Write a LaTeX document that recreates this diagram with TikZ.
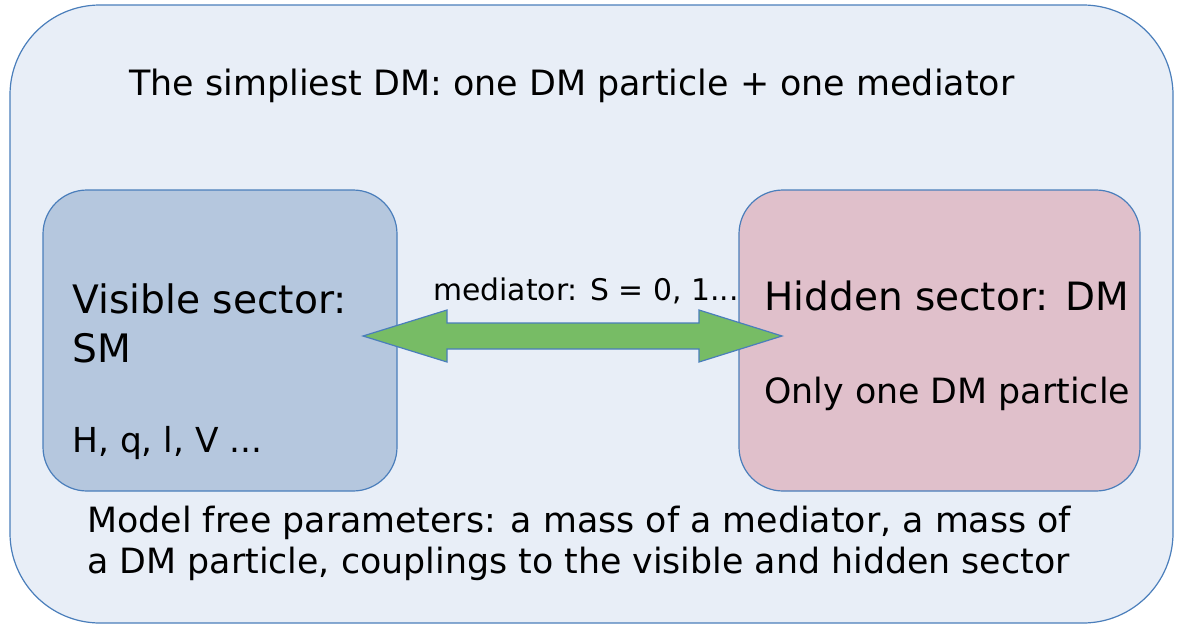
\documentclass[tikz,border=0pt]{standalone}
\usepackage{fontspec}
\setmainfont{DejaVu Sans}
\usetikzlibrary{positioning}

\definecolor{outerfill}{HTML}{E8EEF7}
\definecolor{edgeblue}{HTML}{4A7EBB}
\definecolor{smfill}{HTML}{B5C7DE}
\definecolor{dmfill}{HTML}{E0C0CB}
\definecolor{arrowgreen}{HTML}{77BC65}

\tikzset{
  sectorbox/.style = {draw=edgeblue, line width=0.6pt, rounded corners=22pt},
  bigtext/.style = {anchor=base west, inner sep=0pt, font=\fontsize{19.6}{24}\selectfont},
  smalltext/.style = {anchor=base west, inner sep=0pt, font=\fontsize{17.4}{21}\selectfont}
}

\begin{document}
\begin{tikzpicture}[x=0.5pt, y=-0.5pt]
	\useasboundingbox (0,0) rectangle (1178,627);

	% outer frame
	\draw [sectorbox, fill=outerfill, rounded corners=45pt] (10,5) rectangle (1173,623);
	\node (title) [anchor=base, inner sep=0pt, font=\fontsize{17.45}{21}\selectfont] at (572,95) {The simpliest DM: one DM particle + one mediator};

	% the two sectors
	\draw [sectorbox, fill=smfill] (43,190) rectangle (397,491);
	\draw [sectorbox, fill=dmfill] (739,190) rectangle (1140,491);

	\node (visible) [bigtext] at (72,313) {Visible sector:};
	\node (sm) [bigtext] at (72,362) {SM};
	\node (particles) [smalltext, font=\fontsize{17.2}{21}\selectfont] at (72,452) {H, q, l, V ...};

	\node (hidden) [bigtext, font=\fontsize{19.5}{24}\selectfont] at (764,310) {Hidden sector: DM};
	\node (onlyone) [smalltext] at (764,403) {Only one DM particle};

	% mediator
	\draw [draw=edgeblue, line width=0.6pt, fill=arrowgreen, line join=miter]
		(363,336) -- (447,310) -- (447,323) -- (699,323) -- (699,310) -- (782,336)
		-- (699,362) -- (699,349) -- (447,349) -- (447,362) -- cycle;
	\node (mediator) [anchor=base west, inner sep=0pt, font=\fontsize{14.9}{18}\selectfont] at (433,300) {mediator: S = 0, 1...};

	% free parameters
	\node (params1) [smalltext] at (87,532) {Model free parameters: a mass of a mediator, a mass of};
	\node (params2) [smalltext] at (87,573) {a DM particle, couplings to the visible and hidden sector};
\end{tikzpicture}
\end{document}
